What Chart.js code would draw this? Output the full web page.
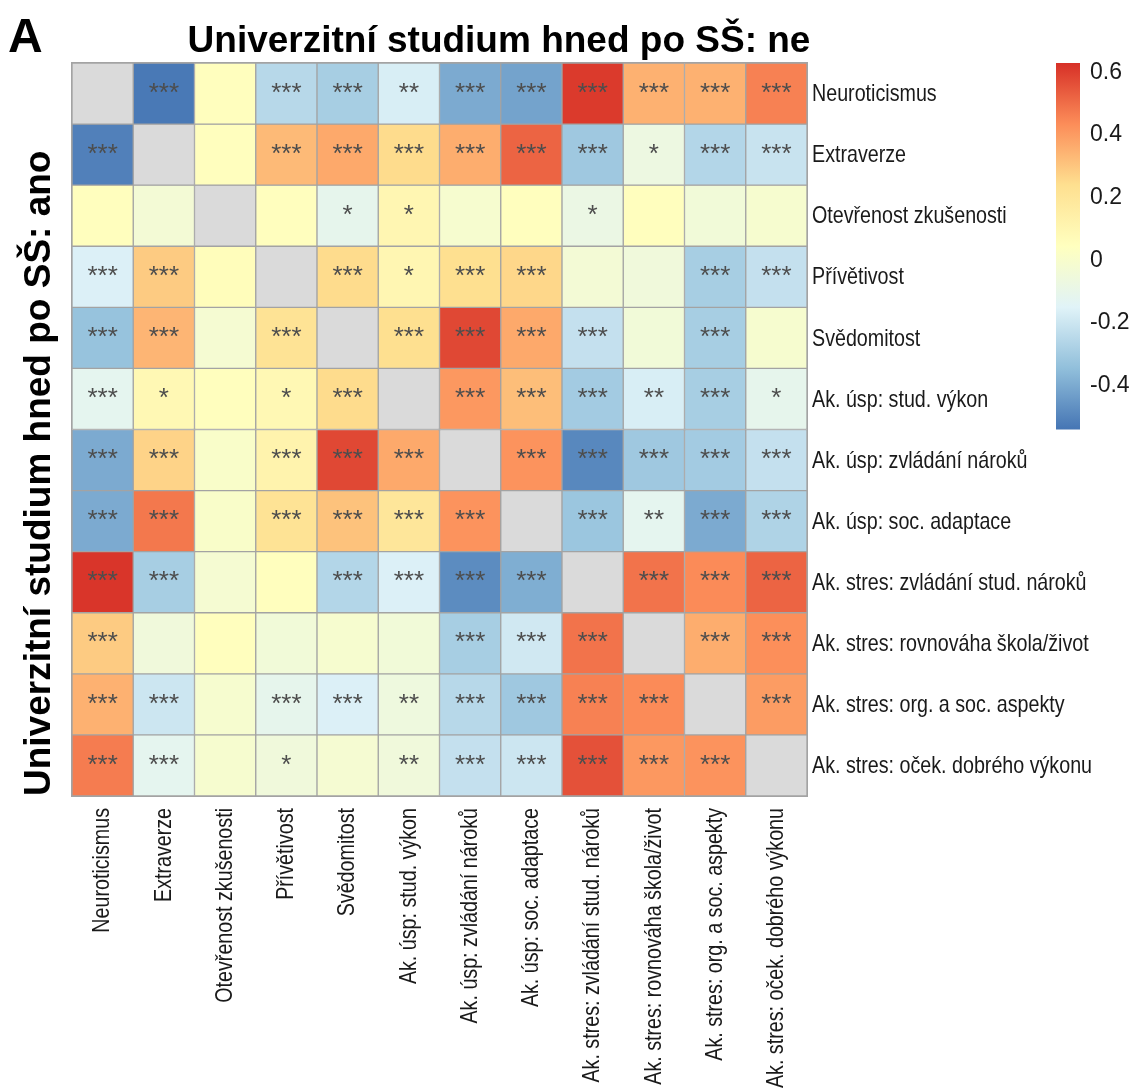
<!DOCTYPE html>
<html lang="cs">
<head>
<meta charset="utf-8">
<title>Korelace – Univerzitní studium hned po SŠ</title>
<script src="https://cdn.jsdelivr.net/npm/chart.js@4.4.1/dist/chart.umd.min.js"></script>
<style>
  html, body { margin: 0; padding: 0; background: #ffffff; }
  #wrap { position: relative; width: 1134px; height: 1091px; }
</style>
</head>
<body>
<div id="wrap"><canvas id="chart" width="1134" height="1091"></canvas></div>
<script>
// Variables shown on both axes
const variables = [
  'Neuroticismus',
  'Extraverze',
  'Otevřenost zkušenosti',
  'Přívětivost',
  'Svědomitost',
  'Ak. úsp: stud. výkon',
  'Ak. úsp: zvládání nároků',
  'Ak. úsp: soc. adaptace',
  'Ak. stres: zvládání stud. nároků',
  'Ak. stres: rovnováha škola/život',
  'Ak. stres: org. a soc. aspekty',
  'Ak. stres: oček. dobrého výkonu'
];

// Correlations per row: below the diagonal = "ano" group, above = "ne" group
const rowNeuroticismus = [null, -0.53, 0.05, -0.25, -0.29, -0.17, -0.40, -0.42, 0.61, 0.35, 0.35, 0.46];
const rowExtraverze    = [-0.51, null, 0.05, 0.33, 0.37, 0.25, 0.36, 0.52, -0.31, -0.07, -0.26, -0.21];
const rowOtevrenost    = [0.05, -0.03, null, 0.05, -0.11, 0.10, -0.01, 0.05, -0.08, 0.05, -0.04, -0.01];
const rowPrivetivost   = [-0.16, 0.29, 0.06, null, 0.25, 0.10, 0.24, 0.26, -0.03, -0.05, -0.29, -0.22];
const rowSvedomitost   = [-0.33, 0.34, -0.02, 0.22, null, 0.24, 0.58, 0.37, -0.22, -0.04, -0.29, -0.01];
const rowUspVykon      = [-0.12, 0.09, 0.05, 0.09, 0.25, null, 0.41, 0.32, -0.30, -0.17, -0.29, -0.11];
const rowUspNaroky     = [-0.40, 0.27, 0.01, 0.12, 0.58, 0.37, null, 0.42, -0.49, -0.31, -0.30, -0.22];
const rowUspAdaptace   = [-0.40, 0.48, 0.01, 0.22, 0.31, 0.20, 0.42, null, -0.32, -0.12, -0.40, -0.27];
const rowStresNaroky   = [0.62, -0.29, -0.02, 0.05, -0.26, -0.16, -0.48, -0.39, null, 0.49, 0.44, 0.52];
const rowStresRovnovaha= [0.29, -0.05, 0.05, -0.04, -0.01, -0.04, -0.29, -0.19, 0.49, null, 0.36, 0.43];
const rowStresAspekty  = [0.35, -0.20, -0.01, -0.11, -0.16, -0.06, -0.25, -0.31, 0.46, 0.44, null, 0.40];
const rowStresOcek     = [0.47, -0.12, -0.01, -0.05, -0.02, -0.05, -0.22, -0.20, 0.56, 0.41, 0.42, null];

// Significance marks per row
const sigNeuroticismus = ['', '***', '', '***', '***', '**', '***', '***', '***', '***', '***', '***'];
const sigExtraverze    = ['***', '', '', '***', '***', '***', '***', '***', '***', '*', '***', '***'];
const sigOtevrenost    = ['', '', '', '', '*', '*', '', '', '*', '', '', ''];
const sigPrivetivost   = ['***', '***', '', '', '***', '*', '***', '***', '', '', '***', '***'];
const sigSvedomitost   = ['***', '***', '', '***', '', '***', '***', '***', '***', '', '***', ''];
const sigUspVykon      = ['***', '*', '', '*', '***', '', '***', '***', '***', '**', '***', '*'];
const sigUspNaroky     = ['***', '***', '', '***', '***', '***', '', '***', '***', '***', '***', '***'];
const sigUspAdaptace   = ['***', '***', '', '***', '***', '***', '***', '', '***', '**', '***', '***'];
const sigStresNaroky   = ['***', '***', '', '', '***', '***', '***', '***', '', '***', '***', '***'];
const sigStresRovnovaha= ['***', '', '', '', '', '', '***', '***', '***', '', '***', '***'];
const sigStresAspekty  = ['***', '***', '', '***', '***', '**', '***', '***', '***', '***', '', '***'];
const sigStresOcek     = ['***', '***', '', '*', '', '**', '***', '***', '***', '***', '***', ''];

// Colour bar range and ticks
const scaleMin = -0.54;
const scaleMax = 0.63;
const barTicks = [0.6, 0.4, 0.2, 0, -0.2, -0.4];

const matrix = [rowNeuroticismus, rowExtraverze, rowOtevrenost, rowPrivetivost, rowSvedomitost,
  rowUspVykon, rowUspNaroky, rowUspAdaptace, rowStresNaroky, rowStresRovnovaha, rowStresAspekty, rowStresOcek];
const stars = [sigNeuroticismus, sigExtraverze, sigOtevrenost, sigPrivetivost, sigSvedomitost,
  sigUspVykon, sigUspNaroky, sigUspAdaptace, sigStresNaroky, sigStresRovnovaha, sigStresAspekty, sigStresOcek];

// Diverging blue-yellow-red ramp
const palette = ['#4575b4', '#91bfdb', '#e0f3f8', '#ffffbf', '#fee090', '#fc8d59', '#d73027'];
const DIAG = '#dadada';
const GRID = '#a3a3a3';
const FONT = "'Liberation Sans', Arial, Helvetica, sans-serif";
const LABEL_SIZE = 24;
const LABEL_SQUEEZE = 0.82;   // condensed axis label lettering

function hexToRgb(h) {
  return [parseInt(h.slice(1, 3), 16), parseInt(h.slice(3, 5), 16), parseInt(h.slice(5, 7), 16)];
}
const paletteRgb = palette.map(hexToRgb);

function colorFor(v) {
  if (v === null) return DIAG;
  let t = (v - scaleMin) / (scaleMax - scaleMin);
  t = Math.max(0, Math.min(1, t));
  const pos = t * (paletteRgb.length - 1);
  const i = Math.min(Math.floor(pos), paletteRgb.length - 2);
  const f = pos - i;
  const a = paletteRgb[i], b = paletteRgb[i + 1];
  const c = a.map((x, k) => Math.round(x + (b[k] - x) * f));
  return `rgb(${c[0]},${c[1]},${c[2]})`;
}

// One stacked dataset per row; every cell is one unit tall
const datasets = matrix.map((row, r) => ({
  label: variables[r],
  data: row.map(() => 1),
  backgroundColor: row.map(colorFor),
  borderColor: GRID,
  borderWidth: 1,
  borderSkipped: false,
  barPercentage: 1,
  categoryPercentage: 1,
  stack: 'grid'
}));

// Asterisks in each cell
const starPlugin = {
  id: 'stars',
  afterDatasetsDraw(chart) {
    const ctx = chart.ctx;
    ctx.save();
    ctx.fillStyle = '#4d4d4d';
    ctx.font = `26px ${FONT}`;
    ctx.textAlign = 'center';
    ctx.textBaseline = 'middle';
    chart.data.datasets.forEach((ds, r) => {
      const meta = chart.getDatasetMeta(r);
      meta.data.forEach((el, c) => {
        const s = stars[r][c];
        if (!s) return;
        const p = el.getCenterPoint();
        ctx.fillText(s, p.x, p.y);
      });
    });
    ctx.restore();
  }
};

// Condensed tick labels placed at the positions of the category scales
const labelPlugin = {
  id: 'condensedLabels',
  afterDraw(chart) {
    const ctx = chart.ctx;
    const area = chart.chartArea;
    const xs = chart.scales.x, ys = chart.scales.y2;
    ctx.save();
    ctx.fillStyle = '#1a1a1a';
    ctx.font = `${LABEL_SIZE}px ${FONT}`;
    ctx.textBaseline = 'middle';

    ys.getLabels().forEach((lab, i) => {
      const y = ys.getPixelForTick(i);
      ctx.save();
      ctx.translate(area.right + 5, y + 1);
      ctx.scale(LABEL_SQUEEZE, 1);
      ctx.textAlign = 'left';
      ctx.fillText(lab, 0, 0);
      ctx.restore();
    });

    xs.getLabels().forEach((lab, i) => {
      const x = xs.getPixelForTick(i);
      ctx.save();
      ctx.translate(x, area.bottom + 12);
      ctx.rotate(-Math.PI / 2);
      ctx.scale(LABEL_SQUEEZE, 1);
      ctx.textAlign = 'right';
      ctx.fillText(lab, 0, 0);
      ctx.restore();
    });
    ctx.restore();
  }
};

// Outer frame, titles and colour bar
const decorPlugin = {
  id: 'decor',
  afterDraw(chart) {
    const ctx = chart.ctx;
    const area = chart.chartArea;
    ctx.save();

    ctx.strokeStyle = GRID;
    ctx.lineWidth = 1;
    ctx.strokeRect(area.left - 0.5, area.top - 0.5, area.right - area.left + 1, area.bottom - area.top + 1);

    ctx.fillStyle = '#000';
    ctx.textBaseline = 'alphabetic';
    ctx.font = `bold 48px ${FONT}`;
    ctx.textAlign = 'left';
    ctx.fillText('A', 8, 52);

    ctx.font = `bold 37px ${FONT}`;
    ctx.textAlign = 'center';
    ctx.fillText('Univerzitní studium hned po SŠ: ne', 499, 52);

    ctx.save();
    ctx.translate(50, area.bottom);
    ctx.rotate(-Math.PI / 2);
    ctx.textAlign = 'left';
    ctx.fillText('Univerzitní studium hned po SŠ: ano', 0, 0);
    ctx.restore();

    // colour bar
    const bx = area.right + 249, bw = 24;
    const by = area.top, bh = (area.bottom - area.top) / 2;
    const grad = ctx.createLinearGradient(0, by + bh, 0, by);
    palette.forEach((col, i) => grad.addColorStop(i / (palette.length - 1), col));
    ctx.fillStyle = grad;
    ctx.fillRect(bx, by, bw, bh);

    ctx.fillStyle = '#1a1a1a';
    ctx.font = `23px ${FONT}`;
    ctx.textAlign = 'left';
    ctx.textBaseline = 'middle';
    barTicks.forEach(t => {
      const y = by + (scaleMax - t) / (scaleMax - scaleMin) * bh;
      ctx.fillText(String(t), bx + bw + 10, y);
    });
    ctx.restore();
  }
};

new Chart(document.getElementById('chart'), {
  type: 'bar',
  data: { labels: variables, datasets },
  options: {
    responsive: false,
    animation: false,
    layout: { padding: { left: 72, top: 63, right: 0, bottom: 0 } },
    plugins: { legend: { display: false }, tooltip: { enabled: false }, title: { display: false } },
    scales: {
      x: {
        type: 'category',
        stacked: true,
        grid: { display: false },
        border: { display: false },
        ticks: { display: false, autoSkip: false },
        afterFit(scale) { scale.height = 295; }
      },
      y: {
        type: 'linear', stacked: true, min: 0, max: 12, reverse: true, display: false
      },
      y2: {
        type: 'category',
        labels: variables,
        position: 'right',
        offset: true,
        grid: { display: false },
        border: { display: false },
        ticks: { display: false, autoSkip: false },
        afterFit(scale) { scale.width = 327; }
      }
    }
  },
  plugins: [starPlugin, labelPlugin, decorPlugin]
});
</script>
</body>
</html>
